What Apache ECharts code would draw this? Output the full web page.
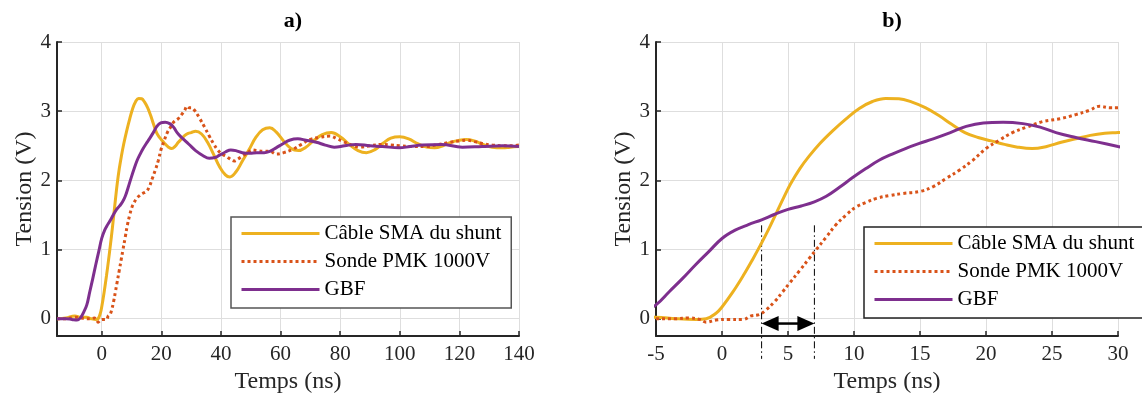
<!DOCTYPE html>
<html><head><meta charset="utf-8">
<script src="https://cdn.jsdelivr.net/npm/echarts@6/dist/echarts.min.js"></script>
<style>html,body{margin:0;padding:0;background:#fff}#c{width:1142px;height:399px}</style>
</head><body><div id="c"></div>
<script>
// ---------- data ----------
const seriesNames = ['Câble SMA du shunt', 'Sonde PMK 1000V', 'GBF'];
const panelTitles = ['a)', 'b)'];
const xTitle = 'Temps (ns)';
const yTitle = 'Tension (V)';
const panelXRange = [[-15, 140], [-5, 30]];
const panelXStep = [20, 5];
const yRange = [-0.25, 4];
const yStep = 1;
const delayTimes = [3, 7];
const delayLineSpan = [-0.58, 1.35];
const arrowLevel = -0.07;

const cableSMA = [[-15,0],[-12,0.01],[-9,0.04],[-7,0.02],[-5,0.02],[-3.5,0],[-2,-0.01],[-1.2,0],[-0.45,0.08],[0,0.17],[0.8,0.38],[1.6,0.62],[2.3,0.85],[2.9,1.06],[3.5,1.28],[4.1,1.52],[4.7,1.76],[5.2,1.95],[5.9,2.17],[6.6,2.35],[7.4,2.53],[8.4,2.72],[9.4,2.89],[10.4,3.04],[11.4,3.14],[12.4,3.185],[13.4,3.18],[14.4,3.13],[15.4,3.05],[16.4,2.94],[17.4,2.81],[18.4,2.69],[19.4,2.62],[20.4,2.57],[21.4,2.52],[22.4,2.48],[23.5,2.46],[24.6,2.49],[25.7,2.55],[26.8,2.6],[27.9,2.65],[29,2.68],[30,2.69],[31.5,2.71],[33.5,2.67],[35.5,2.55],[37.5,2.38],[39.5,2.2],[41.5,2.08],[43,2.05],[45,2.12],[47.2,2.28],[49.5,2.45],[51.7,2.62],[54,2.73],[56.4,2.76],[58.5,2.7],[61,2.57],[63.5,2.46],[66,2.43],[68.5,2.48],[71,2.57],[74,2.66],[77,2.69],[80,2.63],[83,2.52],[86,2.43],[88.8,2.4],[91.5,2.44],[94.5,2.54],[97,2.61],[100,2.63],[103,2.6],[106,2.53],[109,2.48],[111.7,2.47],[114.5,2.5],[117,2.55],[120,2.58],[122.3,2.59],[125,2.57],[128,2.52],[131,2.48],[134.6,2.47],[137,2.48],[140,2.49]];

const sondePMK = [[-15,0],[-12,0],[-9,0.02],[-7,0.01],[-5,0],[-3.5,0],[-2.5,0.01],[-1.7,-0.01],[-1.2,-0.05],[-0.45,-0.02],[0.5,-0.01],[1.6,-0.01],[2.2,0.04],[2.8,0.06],[3.3,0.12],[4,0.25],[4.6,0.39],[5.1,0.51],[5.9,0.7],[6.6,0.87],[7.1,0.99],[7.9,1.18],[8.6,1.35],[9.4,1.5],[10.2,1.62],[10.9,1.68],[11.7,1.74],[12.7,1.78],[13.7,1.81],[15,1.84],[16,1.91],[17,2.03],[18,2.15],[19,2.29],[20,2.46],[21,2.58],[22,2.69],[23.1,2.77],[24.3,2.85],[25.6,2.89],[26.8,2.95],[27.8,3.01],[28.6,3.07],[29.4,3.05],[30,3.05],[31,3.02],[32.8,2.9],[34.5,2.77],[36.1,2.64],[37.5,2.53],[38.9,2.44],[40.3,2.38],[41.7,2.35],[43,2.31],[44.4,2.28],[45.8,2.31],[47.2,2.35],[49,2.4],[50.6,2.44],[52,2.43],[54.2,2.42],[56.4,2.42],[58.6,2.38],[61,2.4],[64.2,2.45],[67,2.52],[69.8,2.59],[73,2.62],[76.5,2.64],[79,2.6],[81,2.56],[84,2.51],[86.6,2.48],[90,2.5],[94.4,2.52],[97,2.51],[100,2.5],[104,2.49],[108.9,2.49],[112,2.51],[116.8,2.55],[120,2.57],[122.3,2.58],[125,2.56],[127.9,2.53],[131,2.51],[134.6,2.5],[137,2.5],[140,2.51]];

const gbf = [[-15,0],[-12,0],[-10,-0.01],[-8.3,-0.02],[-7,0.02],[-6,0.1],[-5,0.2],[-4,0.39],[-3,0.58],[-2,0.78],[-1,0.97],[0,1.16],[1,1.28],[2,1.36],[3,1.43],[4,1.51],[5,1.58],[6,1.63],[7,1.69],[7.9,1.77],[8.9,1.9],[9.9,2.04],[10.9,2.17],[11.9,2.29],[12.9,2.38],[13.9,2.46],[14.9,2.53],[16,2.6],[17.3,2.69],[18.5,2.78],[19.8,2.83],[21.3,2.84],[22.8,2.82],[24.1,2.77],[25.3,2.69],[26.8,2.62],[28.3,2.56],[30,2.49],[31.5,2.43],[33.9,2.36],[36.1,2.32],[38,2.33],[39.4,2.36],[41.5,2.41],[43.3,2.44],[45,2.43],[47.2,2.4],[49.7,2.39],[52,2.4],[54.5,2.4],[56.4,2.42],[58.5,2.47],[60.8,2.53],[63,2.58],[65.8,2.6],[68.5,2.58],[72,2.55],[75,2.51],[78,2.48],[81.5,2.5],[85.3,2.52],[90,2.5],[94.2,2.49],[99.8,2.47],[103.5,2.49],[107.6,2.51],[114,2.52],[121,2.48],[127.6,2.49],[134.5,2.5],[140,2.49]];

// ---------- chart ----------
const FONT = 'Liberation Serif';
const AX = '#262626';
const colors = ['#EDB120', '#D95319', '#7E2F8E'];
const seriesData = [cableSMA, sondePMK, gbf];
const grids = [
  { left: 57, top: 42, width: 462, height: 294 },
  { left: 656, top: 42, width: 462, height: 294 }
];
const isMultiple = (v, s) => Math.abs(v / s - Math.round(v / s)) < 1e-9;

const xAxes = panelXRange.map((r, i) => ({
  type: 'value', gridIndex: i, min: r[0], max: r[1],
  minInterval: panelXStep[i], maxInterval: panelXStep[i],
  name: xTitle, nameLocation: 'middle', nameGap: 34,
  nameTextStyle: { fontFamily: FONT, fontSize: 24, color: AX },
  axisLine: { show: true, onZero: false, lineStyle: { color: AX, width: 2 } },
  axisTick: { show: true, inside: true, length: 5, lineStyle: { color: AX, width: 1.5 } },
  axisLabel: { show: true, margin: 8, fontFamily: FONT, fontSize: 21, color: AX,
    formatter: v => isMultiple(v, panelXStep[i]) ? String(v) : '' },
  splitLine: { show: true, lineStyle: { color: '#dedede', width: 1 } }
}));
const yAxes = [0, 1].map(i => ({
  type: 'value', gridIndex: i, min: yRange[0], max: yRange[1],
  minInterval: yStep, maxInterval: yStep,
  name: yTitle, nameLocation: 'middle', nameGap: 19,
  nameTextStyle: { fontFamily: FONT, fontSize: 24, color: AX },
  axisLine: { show: true, onZero: false, lineStyle: { color: AX, width: 2 } },
  axisTick: { show: true, inside: true, length: 5, lineStyle: { color: AX, width: 1.5 } },
  axisLabel: { show: true, margin: 6, fontFamily: FONT, fontSize: 21, color: AX,
    formatter: v => isMultiple(v, yStep) ? String(v) : '' },
  splitLine: { show: true, lineStyle: { color: '#dedede', width: 1 } }
}));

const series = [];
[0, 1].forEach(p => {
  seriesNames.forEach((n, k) => {
    series.push({
      type: 'line', name: n, xAxisIndex: p, yAxisIndex: p,
      data: seriesData[k], symbol: 'none', showSymbol: false, smooth: 0.4,
      clip: true, animation: false,
      lineStyle: k === 1
        ? { color: colors[k], width: 3, type: [3, 3], cap: 'butt' }
        : { color: colors[k], width: 3 },
      itemStyle: { color: colors[k] },
      emphasis: { disabled: true }
    });
  });
});
series.push({
  type: 'custom', xAxisIndex: 1, yAxisIndex: 1, clip: false, silent: true, animation: false,
  data: [[delayTimes[0], arrowLevel]],
  renderItem: (params, api) => {
    const children = [];
    delayTimes.forEach(t => {
      const p0 = api.coord([t, delayLineSpan[1]]);
      const p1 = api.coord([t, delayLineSpan[0]]);
      children.push({ type: 'line', shape: { x1: p0[0], y1: p0[1], x2: p1[0], y2: p1[1] },
        style: { stroke: '#000', lineWidth: 1, lineDash: [7, 3, 1.5, 3] } });
    });
    const a = api.coord([delayTimes[0], arrowLevel]);
    const b = api.coord([delayTimes[1], arrowLevel]);
    const hl = 17, hh = 7.5;
    children.push({ type: 'line', shape: { x1: a[0] + hl - 2, y1: a[1], x2: b[0] - hl + 2, y2: b[1] },
      style: { stroke: '#000', lineWidth: 2.5 } });
    children.push({ type: 'polygon', shape: { points: [[a[0], a[1]], [a[0] + hl, a[1] - hh], [a[0] + hl, a[1] + hh]] },
      style: { fill: '#000' } });
    children.push({ type: 'polygon', shape: { points: [[b[0], b[1]], [b[0] - hl, b[1] - hh], [b[0] - hl, b[1] + hh]] },
      style: { fill: '#000' } });
    return { type: 'group', children };
  }
});

const legendBase = {
  orient: 'vertical', data: seriesNames, itemWidth: 78, itemHeight: 14, itemGap: 7,
  padding: [6, 10, 8, 9], backgroundColor: '#fff', borderWidth: 1.5,
  selectedMode: false,
  itemStyle: { opacity: 0, borderWidth: 0 },
  lineStyle: { width: 3 },
  textStyle: { fontFamily: FONT, fontSize: 21, lineHeight: 21, color: '#000' }
};

const option = {
  animation: false,
  backgroundColor: '#fff',
  title: panelTitles.map((t, i) => ({
    text: t, left: grids[i].left + grids[i].width / 2, top: 5, textAlign: 'center',
    textStyle: { fontFamily: FONT, fontSize: 22, fontWeight: 'bold', color: '#000' }
  })),
  grid: grids,
  xAxis: xAxes,
  yAxis: yAxes,
  legend: [
    Object.assign({}, legendBase, { left: 231, top: 217, borderColor: '#555' }),
    Object.assign({}, legendBase, { left: 864, top: 227, borderColor: '#222' })
  ],
  series
};
const chart = echarts.init(document.getElementById('c'), null, { renderer: 'canvas' });
chart.setOption(option);
</script></body></html>
